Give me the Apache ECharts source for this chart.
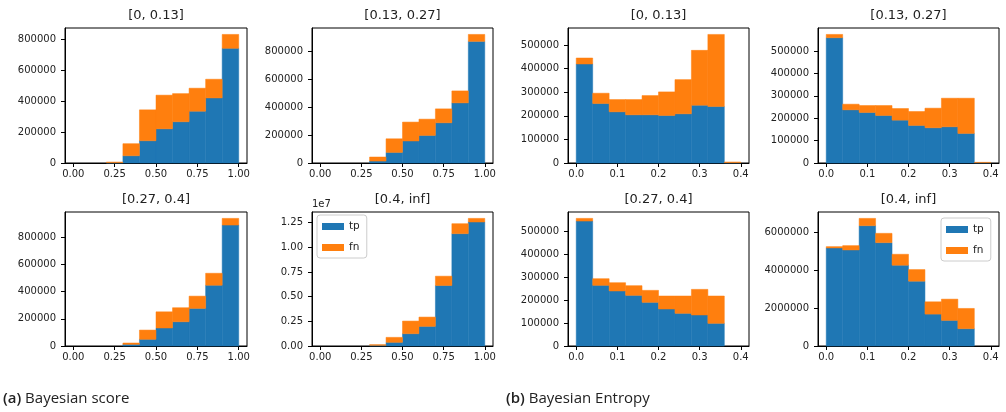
<!DOCTYPE html>
<html>
<head>
<meta charset="utf-8">
<script src="https://cdn.jsdelivr.net/npm/echarts@6/dist/echarts.min.js"></script>
<style>
html,body{margin:0;padding:0;background:#fff;}
#c{width:1006px;height:412px;}
</style>
</head>
<body>
<div id="c"></div>
<script>
// ---- data ----
const scoreEdges = [0, 0.1, 0.2, 0.3, 0.4, 0.5, 0.6, 0.7, 0.8, 0.9, 1.0];
const entropyEdges = [0, 0.04, 0.08, 0.12, 0.16, 0.2, 0.24, 0.28, 0.32, 0.36, 0.4];

const scoreTicks = [0, 0.25, 0.5, 0.75, 1.0];
const entropyTicks = [0, 0.1, 0.2, 0.3, 0.4];

const panelTitles = ['[0, 0.13]', '[0.13, 0.27]', '[0.27, 0.4]', '[0.4, inf]'];

// (a) Bayesian score
const scoreTp_0_013   = [0, 0, 2000, 47000, 144000, 221000, 267000, 335000, 421000, 742000];
const scoreFn_0_013   = [0, 0, 4000, 78000, 200000, 218000, 182000, 149000, 121000, 90000];
const scoreTp_013_027 = [0, 0, 0, 14000, 76000, 158000, 198000, 289000, 432000, 874000];
const scoreFn_013_027 = [0, 0, 0, 29000, 98000, 136000, 117000, 100000, 86000, 50000];
const scoreTp_027_04  = [0, 0, 0, 12000, 49000, 132000, 178000, 276000, 446000, 888000];
const scoreFn_027_04  = [0, 0, 0, 10000, 68000, 119000, 103000, 90000, 88000, 49000];
const scoreTp_04_inf  = [0, 0, 0, 67000, 371000, 1247000, 1988000, 6132000, 11388000, 12568000];
const scoreFn_04_inf  = [0, 0, 0, 68000, 505000, 1280000, 943000, 944000, 1011000, 370000];

// (b) Bayesian Entropy
const entTp_0_013   = [419700, 252100, 216900, 204200, 204200, 201400, 208500, 245100, 239400, 1400];
const entFn_0_013   = [25400, 43700, 52100, 64800, 81700, 100000, 145000, 232400, 305700, 2800];
const entTp_013_027 = [559400, 237400, 225500, 212200, 191400, 167700, 157300, 161700, 132000, 1500];
const entFn_013_027 = [14800, 25200, 31200, 44500, 51900, 62300, 87500, 127600, 157300, 1500];
const entTp_027_04  = [543400, 263700, 239100, 220200, 189800, 160800, 142000, 134800, 98500, 0];
const entFn_027_04  = [11600, 29000, 36200, 42100, 52200, 56600, 75400, 111500, 118900, 0];
const entTp_04_inf  = [5160000, 5055000, 6332000, 5440000, 4251000, 3411000, 1679000, 1347000, 910000, 0];
const entFn_04_inf  = [70000, 228000, 385000, 490000, 577000, 612000, 647000, 1119000, 1067000, 0];

const yTicksScore = [0, 200000, 400000, 600000, 800000];
const yTicksScoreBig = [0, 2500000, 5000000, 7500000, 10000000, 12500000];
const yTicksEnt = [0, 100000, 200000, 300000, 400000, 500000];
const yTicksEntBig = [0, 2000000, 4000000, 6000000];

const captionTags = ['(a)', '(b)'];
const captionTexts = ['Bayesian score', 'Bayesian Entropy'];

// ---- layout ----
const TP = '#1f77b4', FN = '#ff7f0e';
const FONT = 'DejaVu Sans';
const panels = [
  {title: panelTitles[0], edges: scoreEdges, tp: scoreTp_0_013,   fn: scoreFn_0_013,   xt: scoreTicks,   yt: yTicksScore,    xr: [-0.05, 1.05], left: 65,  top: 28,  w: 182, h: 135},
  {title: panelTitles[1], edges: scoreEdges, tp: scoreTp_013_027, fn: scoreFn_013_027, xt: scoreTicks,   yt: yTicksScore,    xr: [-0.05, 1.05], left: 312, top: 28,  w: 181, h: 135},
  {title: panelTitles[0], edges: entropyEdges, tp: entTp_0_013,   fn: entFn_0_013,     xt: entropyTicks, yt: yTicksEnt,      xr: [-0.02, 0.42], left: 568, top: 28,  w: 181, h: 135},
  {title: panelTitles[1], edges: entropyEdges, tp: entTp_013_027, fn: entFn_013_027,   xt: entropyTicks, yt: yTicksEnt,      xr: [-0.02, 0.42], left: 818, top: 28,  w: 181, h: 135},
  {title: panelTitles[2], edges: scoreEdges, tp: scoreTp_027_04,  fn: scoreFn_027_04,  xt: scoreTicks,   yt: yTicksScore,    xr: [-0.05, 1.05], left: 65,  top: 212, w: 182, h: 134},
  {title: panelTitles[3], edges: scoreEdges, tp: scoreTp_04_inf,  fn: scoreFn_04_inf,  xt: scoreTicks,   yt: yTicksScoreBig, xr: [-0.05, 1.05], left: 312, top: 212, w: 181, h: 134, sci: true},
  {title: panelTitles[2], edges: entropyEdges, tp: entTp_027_04,  fn: entFn_027_04,    xt: entropyTicks, yt: yTicksEnt,      xr: [-0.02, 0.42], left: 568, top: 212, w: 181, h: 134},
  {title: panelTitles[3], edges: entropyEdges, tp: entTp_04_inf,  fn: entFn_04_inf,    xt: entropyTicks, yt: yTicksEntBig,   xr: [-0.02, 0.42], left: 818, top: 212, w: 181, h: 134}
];

const grid = [], xAxis = [], yAxis = [], series = [], title = [];

function rectRender(color) {
  return function (params, api) {
    if (api.value(3) - api.value(2) <= 0) return null;
    const p0 = api.coord([api.value(0), api.value(3)]);
    const p1 = api.coord([api.value(1), api.value(2)]);
    return {
      type: 'rect',
      shape: {x: p0[0], y: p0[1], width: p1[0] - p0[0], height: p1[1] - p0[1]},
      style: {fill: color, stroke: color, lineWidth: 0.5}
    };
  };
}

panels.forEach((p, i) => {
  const totals = p.tp.map((v, k) => v + p.fn[k]);
  const ymax = Math.max.apply(null, totals) * 1.05;
  grid.push({left: p.left, top: p.top, width: p.w, height: p.h, show: true, borderColor: '#000', borderWidth: 1, backgroundColor: 'transparent'});
  const xDigits = p.xr[1] > 1 ? 2 : 1;
  xAxis.push({
    type: 'value', gridIndex: i, min: p.xr[0], max: p.xr[1],
    splitLine: {show: false},
    axisLine: {show: true, onZero: false, lineStyle: {color: '#000', width: 1}},
    axisTick: {show: true, length: 4, lineStyle: {color: '#000'}, customValues: p.xt},
    axisLabel: {customValues: p.xt, margin: 6, color: '#222', fontFamily: FONT, fontSize: 10,
      formatter: v => v.toFixed(xDigits)}
  });
  yAxis.push({
    type: 'value', gridIndex: i, min: 0, max: ymax,
    splitLine: {show: false},
    axisLine: {show: true, onZero: false, lineStyle: {color: '#000', width: 1}},
    axisTick: {show: true, length: 4, lineStyle: {color: '#000'}, customValues: p.yt},
    axisLabel: {customValues: p.yt, margin: 9, color: '#222', fontFamily: FONT, fontSize: 10,
      formatter: v => p.sci ? (v / 1e7).toFixed(2) : String(Math.round(v))}
  });
  const tpData = [], fnData = [];
  p.tp.forEach((v, k) => {
    tpData.push([p.edges[k], p.edges[k + 1], 0, v]);
    fnData.push([p.edges[k], p.edges[k + 1], v, v + p.fn[k]]);
  });
  series.push({name: 'tp', type: 'custom', xAxisIndex: i, yAxisIndex: i, renderItem: rectRender(TP),
    encode: {x: [0, 1], y: [2, 3]}, data: tpData, itemStyle: {color: TP}, silent: true});
  series.push({name: 'fn', type: 'custom', xAxisIndex: i, yAxisIndex: i, renderItem: rectRender(FN),
    encode: {x: [0, 1], y: [2, 3]}, data: fnData, itemStyle: {color: FN}, silent: true});
  title.push({text: p.title, left: p.left + p.w / 2, top: p.top - 19, textAlign: 'center', padding: 0,
    textStyle: {fontFamily: FONT, fontSize: 13, fontWeight: 'normal', color: '#222'}});
});

const legendCommon = {
  orient: 'vertical', data: ['tp', 'fn'], itemWidth: 22, itemHeight: 7, itemGap: 10,
  icon: 'rect', padding: [6, 7, 5, 5], borderColor: '#ccc', borderWidth: 1, borderRadius: 3,
  backgroundColor: 'rgba(255,255,255,0.8)',
  textStyle: {fontFamily: FONT, fontSize: 10.5, color: '#222'}
};

function caption(i, x) {
  return {type: 'text', left: x, top: 391, style: {
    text: '{t|' + captionTags[i] + '} ' + captionTexts[i],
    font: '15px "Open Sans"', fill: '#222',
    rich: {t: {fontFamily: 'Open Sans', fontSize: 15, fontWeight: 600, fill: '#222'}}
  }};
}

const option = {
  animation: false,
  backgroundColor: '#fff',
  title: title,
  grid: grid, xAxis: xAxis, yAxis: yAxis, series: series,
  legend: [
    Object.assign({left: 317, top: 215}, legendCommon),
    Object.assign({left: 941, top: 218}, legendCommon)
  ],
  graphic: [
    {type: 'text', left: 312, top: 199, style: {text: '1e7', font: '10px "DejaVu Sans"', fill: '#222'}},
    caption(0, 3),
    caption(1, 506)
  ]
};

const chart = echarts.init(document.getElementById('c'), null, {renderer: 'canvas'});
chart.setOption(option);
</script>
</body>
</html>
